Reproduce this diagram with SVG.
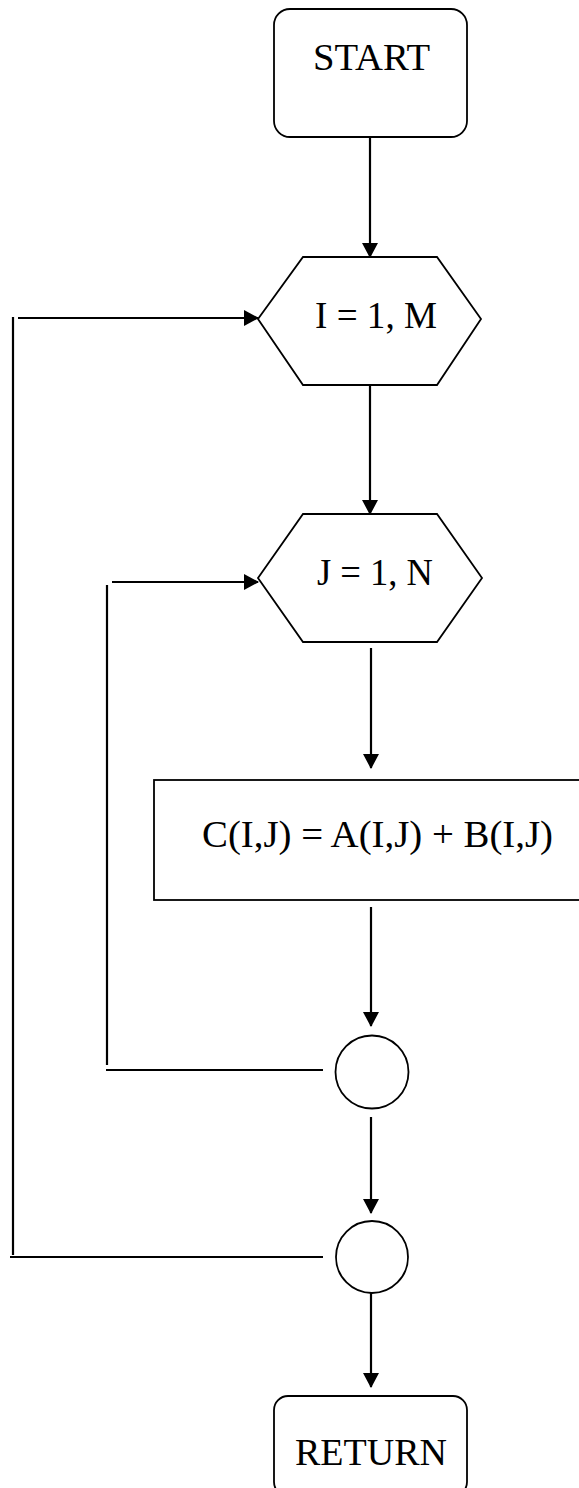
<svg xmlns="http://www.w3.org/2000/svg" width="579" height="1488" viewBox="0 0 579 1488">
  <style>
    .shape { fill: #fff; stroke: #000; stroke-width: 1.8; }
    .conn { fill: none; stroke: #000; stroke-width: 2.2; }
    .label { font-family: "Liberation Serif", "Times New Roman", serif; font-size: 38px; fill: #000; }
  </style>
  <defs>
    <marker id="arrow" markerWidth="16" markerHeight="16" refX="14" refY="8" orient="auto" markerUnits="userSpaceOnUse">
      <path d="M0,0 L15,8 L0,16 Z" fill="#000"/>
    </marker>
  </defs>

  <rect width="579" height="1488" fill="#fff"/>

  <!-- connectors -->
  <g id="connectors">
    <line class="conn" x1="370" y1="137" x2="370" y2="257" marker-end="url(#arrow)"/>
    <line class="conn" x1="370" y1="385" x2="370" y2="514" marker-end="url(#arrow)"/>
    <line class="conn" x1="371" y1="648" x2="371" y2="768" marker-end="url(#arrow)"/>
    <line class="conn" x1="371" y1="907" x2="371" y2="1026" marker-end="url(#arrow)"/>
    <line class="conn" x1="371" y1="1117" x2="371" y2="1213" marker-end="url(#arrow)"/>
    <line class="conn" x1="371" y1="1293" x2="371" y2="1387" marker-end="url(#arrow)"/>
    <!-- inner loop back to J -->
    <line class="conn" x1="323" y1="1070" x2="106" y2="1070"/>
    <line class="conn" x1="107" y1="1065" x2="107" y2="585"/>
    <line class="conn" x1="112" y1="582" x2="258" y2="582" marker-end="url(#arrow)"/>
    <!-- outer loop back to I -->
    <line class="conn" x1="323" y1="1257" x2="10" y2="1257"/>
    <line class="conn" x1="13" y1="1255" x2="13" y2="317"/>
    <line class="conn" x1="18" y1="318" x2="258" y2="318" marker-end="url(#arrow)"/>
  </g>

  <g id="start">
    <rect class="shape" x="274" y="9" width="193" height="128" rx="16"/>
    <text class="label" x="313" y="70" textLength="117" lengthAdjust="spacingAndGlyphs">START</text>
  </g>

  <g id="loop-i">
    <polygon class="shape" points="258,319 303,257 437,257 481,319 437,385 303,385"/>
    <text class="label" x="315" y="328" textLength="122" lengthAdjust="spacingAndGlyphs">I = 1, M</text>
  </g>

  <g id="loop-j">
    <polygon class="shape" points="258,578 303,514 437,514 482,578 437,642 303,642"/>
    <text class="label" x="317" y="585" textLength="116" lengthAdjust="spacingAndGlyphs">J = 1, N</text>
  </g>

  <g id="sum">
    <rect class="shape" x="154" y="780" width="430" height="120"/>
    <text class="label" x="202" y="847" textLength="351" lengthAdjust="spacingAndGlyphs">C(I,J) = A(I,J) + B(I,J)</text>
  </g>

  <g id="end-j">
    <circle class="shape" cx="372" cy="1072" r="36.5"/>
  </g>

  <g id="end-i">
    <circle class="shape" cx="372" cy="1257" r="36"/>
  </g>

  <g id="return">
    <rect class="shape" x="274" y="1396" width="193" height="100" rx="14"/>
    <text class="label" x="295" y="1465" textLength="152" lengthAdjust="spacingAndGlyphs">RETURN</text>
  </g>
</svg>
